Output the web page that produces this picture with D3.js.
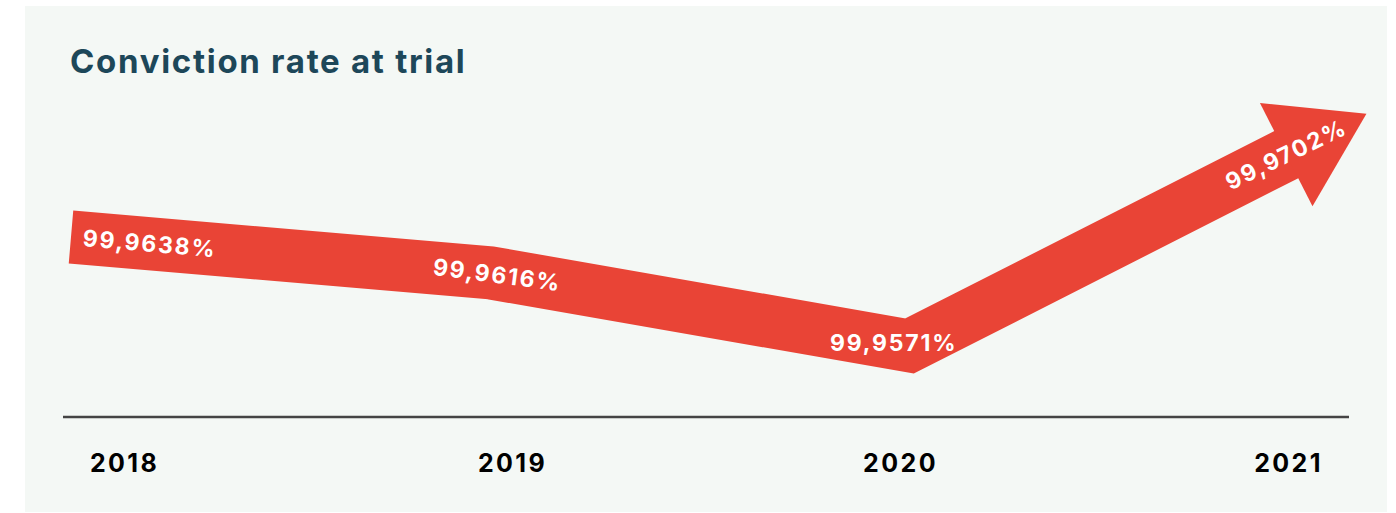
<!DOCTYPE html>
<html>
<head>
<meta charset="utf-8">
<script src="https://cdn.jsdelivr.net/npm/d3@7/dist/d3.min.js"></script>
<style>
  html, body { margin: 0; padding: 0; background: #ffffff; }
  svg { display: block; }
  text { font-family: Inter, "Open Sans", sans-serif; font-weight: 700; }
</style>
</head>
<body>
<svg id="chart" width="1396" height="513"></svg>
<script>
// Conviction rate at trial, per year
const years = [2018, 2019, 2020, 2021];
const rates = [99.9638, 99.9616, 99.9571, 99.9702];
const rateLabels = ["99,9638%", "99,9616%", "99,9571%", "99,9702%"];
const yearLabels = ["2018", "2019", "2020", "2021"];
const title = "Conviction rate at trial";

const RED = "#e94436";
const BAND = 53;          // ribbon thickness

const svg = d3.select("#chart");

// panel background
svg.append("rect")
  .attr("x", 25).attr("y", 6)
  .attr("width", 1362).attr("height", 506)
  .attr("fill", "#f4f8f5");

svg.append("text")
  .attr("x", 70).attr("y", 73)
  .attr("font-size", 33)
  .attr("letter-spacing", 1.7)
  .attr("fill", "#1d4759")
  .text(title);

// scales
const x = d3.scaleLinear().domain([2018, 2021]).range([71, 1329]);
const y = d3.scaleLinear().domain([99.95, 99.975]).range([461.5, 54.8]);
const xLabel = d3.scalePoint().domain(yearLabels).range([124, 1288]);

const pts = years.map((yr, i) => [x(yr), y(rates[i])]);

// unit direction of each segment
const dirs = d3.range(pts.length - 1).map(i => {
  const dx = pts[i + 1][0] - pts[i][0], dy = pts[i + 1][1] - pts[i][1];
  const len = Math.hypot(dx, dy);
  return [dx / len, dy / len];
});
const deg = d => Math.atan2(d[1], d[0]) * 180 / Math.PI;

// arrow head around the last point
const u = dirs[dirs.length - 1];
const nrm = [-u[1], u[0]];
const last = pts[pts.length - 1];
const headBack = 48, headFwd = 42, headHalf = 58;
const base = [last[0] - headBack * u[0], last[1] - headBack * u[1]];
const tip = [last[0] + headFwd * u[0], last[1] + headFwd * u[1]];

// shaft: polyline through the yearly values, ending under the head
const shaft = pts.slice(0, -1).concat([[base[0] + 4 * u[0], base[1] + 4 * u[1]]]);
svg.append("path")
  .attr("d", d3.line()(shaft))
  .attr("fill", "none")
  .attr("stroke", RED)
  .attr("stroke-width", BAND)
  .attr("stroke-linejoin", "miter")
  .attr("stroke-linecap", "butt");

svg.append("path")
  .attr("d", d3.line()([
    [base[0] + headHalf * nrm[0], base[1] + headHalf * nrm[1]],
    tip,
    [base[0] - headHalf * nrm[0], base[1] - headHalf * nrm[1]]
  ]) + "Z")
  .attr("fill", RED);

// value labels placed along the ribbon
const labelPos = [
  { p: [pts[0][0] + 12 * dirs[0][0], pts[0][1] + 12 * dirs[0][1]], a: deg(dirs[0]), anchor: "start" },
  { p: [pts[1][0] + 7 * dirs[1][0], pts[1][1] + 7 * dirs[1][1] + 1], a: (deg(dirs[0]) + deg(dirs[1])) / 2, anchor: "middle" },
  { p: [pts[2][0] - 16, pts[2][1] - 3], a: 0, anchor: "middle" },
  { p: [last[0] - 48 * u[0], last[1] - 48 * u[1]], a: deg(u) + 1, anchor: "middle" }
];

svg.append("g").selectAll("text")
  .data(rateLabels)
  .join("text")
  .attr("transform", (d, i) => `translate(${labelPos[i].p[0]},${labelPos[i].p[1]}) rotate(${labelPos[i].a})`)
  .attr("text-anchor", (d, i) => labelPos[i].anchor)
  .attr("dominant-baseline", "central")
  .attr("font-size", 23)
  .attr("letter-spacing", 1.8)
  .attr("fill", "#ffffff")
  .text(d => d);

// baseline and year labels
const axis = d3.axisBottom(xLabel).tickSize(0).tickPadding(0);
const gAxis = svg.append("g").attr("transform", "translate(0,417)").call(axis);
gAxis.select(".domain").remove();
gAxis.selectAll("text")
  .attr("y", 55)
  .attr("dy", null)
  .attr("font-size", 25)
  .attr("letter-spacing", 2.4)
  .attr("font-family", "Inter, 'Open Sans', sans-serif")
  .attr("font-weight", 700)
  .attr("fill", "#000000");

svg.append("line")
  .attr("x1", 63).attr("x2", 1349)
  .attr("y1", 417).attr("y2", 417)
  .attr("stroke", "#444444")
  .attr("stroke-width", 2.5);
</script>
</body>
</html>
